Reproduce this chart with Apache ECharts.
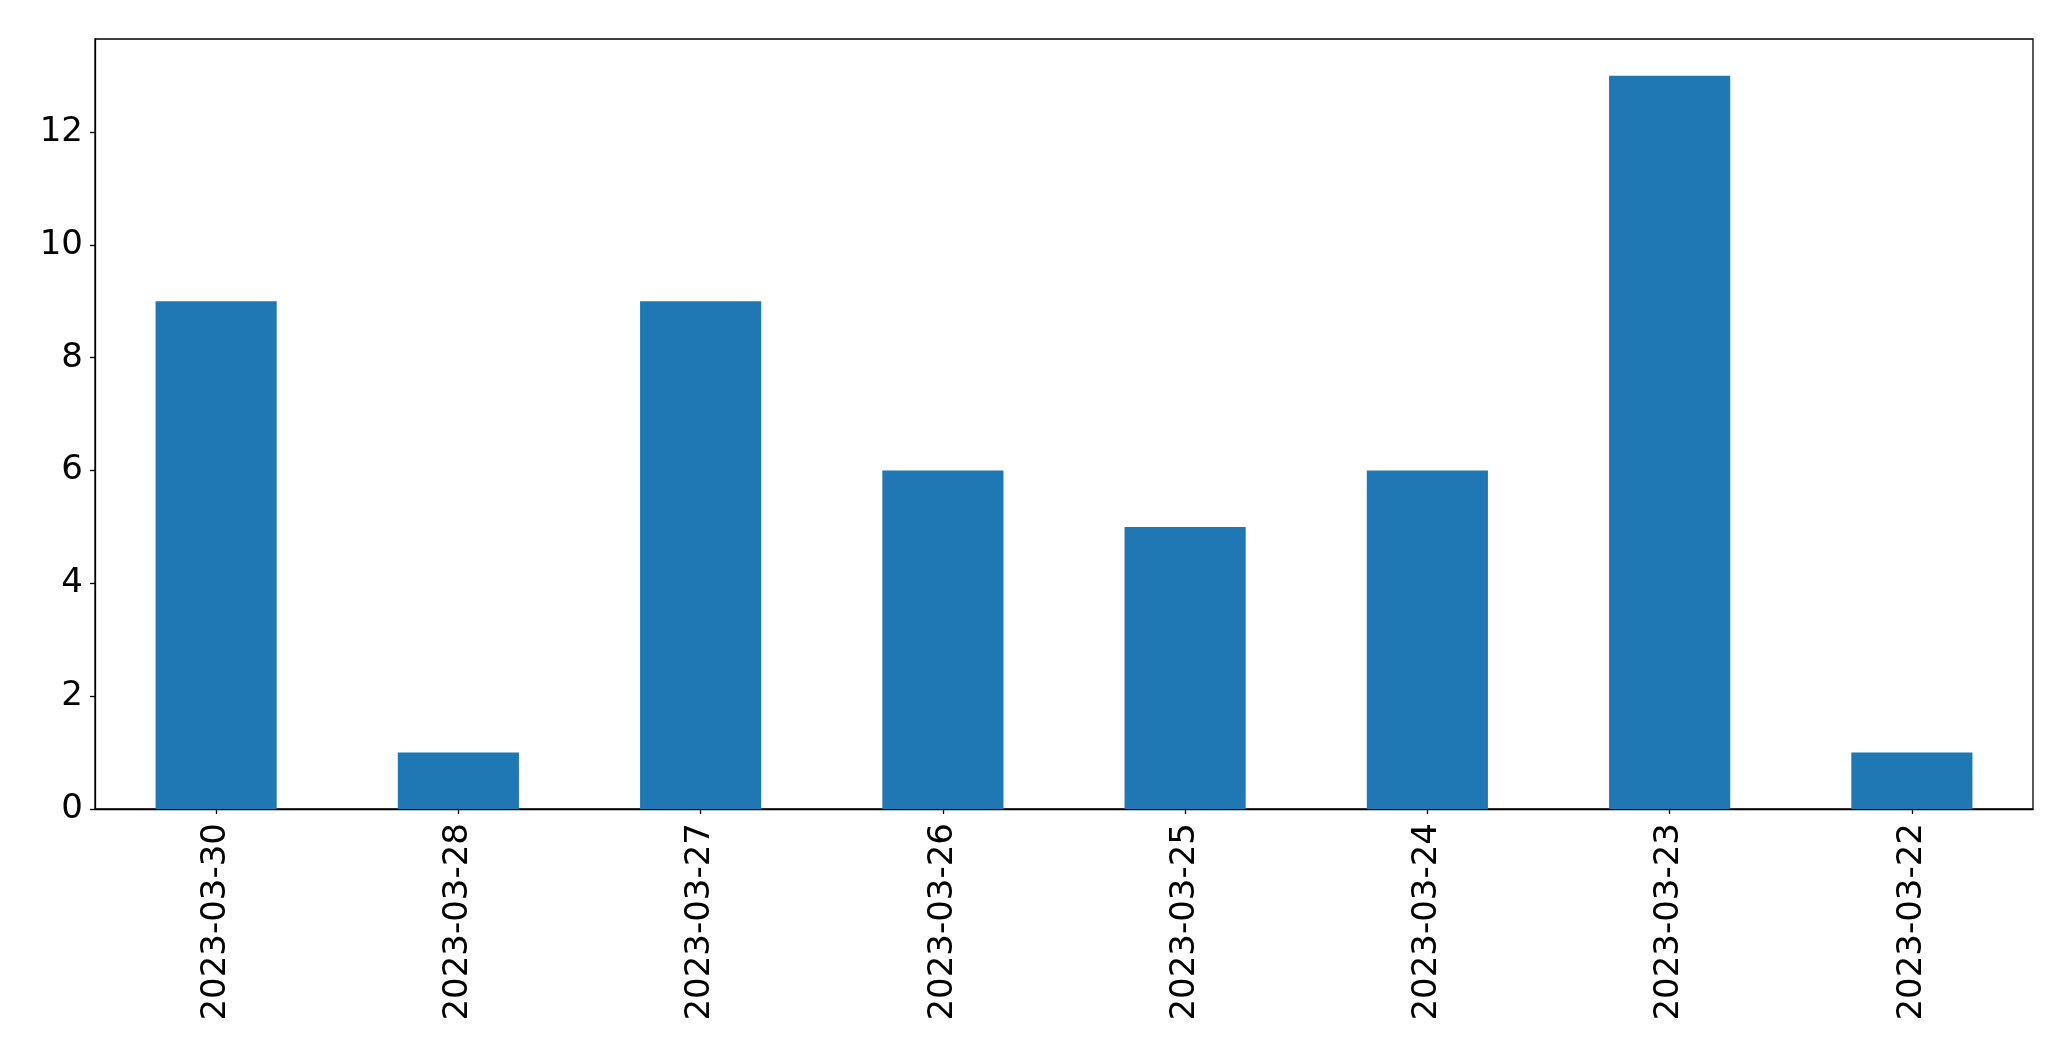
<!DOCTYPE html>
<html>
<head>
<meta charset="utf-8">
<script src="https://cdn.jsdelivr.net/npm/echarts@6/dist/echarts.min.js"></script>
<style>html,body{margin:0;padding:0;background:#fff;}#c{width:2071px;height:1061px;}</style>
</head>
<body>
<div id="c"></div>
<script>
const categories = ['2023-03-30','2023-03-28','2023-03-27','2023-03-26','2023-03-25','2023-03-24','2023-03-23','2023-03-22'];
const values = [9, 1, 9, 6, 5, 6, 13, 1];
const yMax = 13 * 1.05;

const chart = echarts.init(document.getElementById('c'), null, {renderer: 'canvas'});
chart.setOption({
  animation: false,
  backgroundColor: '#fff',
  textStyle: {fontFamily: 'DejaVu Sans'},
  grid: {left: 95, right: 38, top: 39, bottom: 252, show: true, borderColor: '#000', borderWidth: 1.3, containLabel: false},
  xAxis: {
    type: 'category',
    data: categories,
    axisLine: {show: true, lineStyle: {color: '#000', width: 1.3}},
    axisTick: {show: true, alignWithLabel: true, length: 5, lineStyle: {color: '#000', width: 1.3}},
    axisLabel: {rotate: 90, fontSize: 34, color: '#000', margin: 14, fontFamily: 'DejaVu Sans'},
    splitLine: {show: false}
  },
  yAxis: {
    type: 'value',
    min: 0, max: yMax, interval: 2,
    axisLine: {show: true, lineStyle: {color: '#000', width: 1.3}},
    axisTick: {show: true, length: 5, lineStyle: {color: '#000', width: 1.3}},
    axisLabel: {fontSize: 34, color: '#000', margin: 12, showMaxLabel: false, fontFamily: 'DejaVu Sans',
      formatter: v => (Math.abs(v % 2) < 1e-9 ? String(v) : '')},
    splitLine: {show: false}
  },
  series: [{
    type: 'bar',
    data: values,
    barWidth: '50%',
    itemStyle: {color: '#1f77b4'}
  }]
});
</script>
</body>
</html>
